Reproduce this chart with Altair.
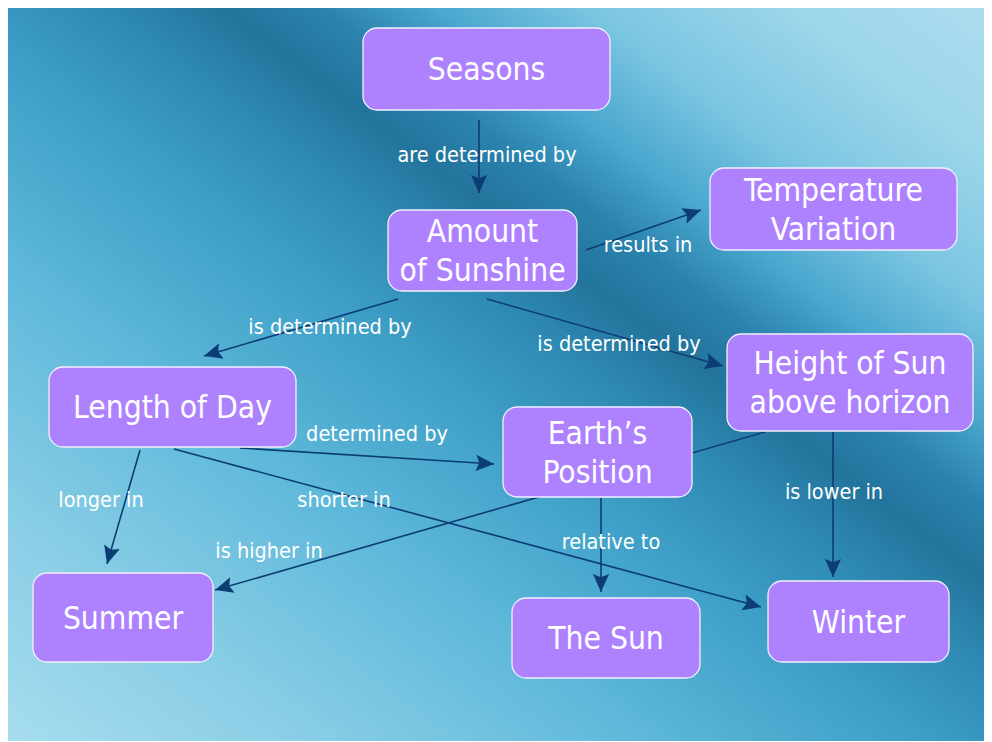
import math
import altair as alt
import pandas as pd

# ---------------- data ----------------
node_text = ["Seasons", "Amount\nof Sunshine", "Temperature\nVariation",
             "Height of Sun\nabove horizon", "Length of Day", "Earth\u2019s\nPosition",
             "Summer", "The Sun", "Winter"]
node_left = [363, 388, 710, 727, 49, 503, 33, 512, 768]
node_right = [610, 577, 957, 973, 296, 692, 213, 700, 949]
node_top = [28, 210, 168, 334, 367, 407, 573, 598, 581]
node_bottom = [110, 291, 250, 431, 447, 497, 662, 678, 662]

edge_from_x = [479, 586, 398, 487, 240, 140, 174, 765, 601, 833]
edge_from_y = [120, 250, 299, 299, 448, 450, 449, 432, 498, 432]
edge_to_x = [479, 701, 204, 723, 494, 107, 761, 215, 601, 833]
edge_to_y = [193, 210, 356, 366, 464, 564, 607, 590, 592, 577]

label_text = ["are determined by", "results in", "is determined by", "is determined by",
              "determined by", "longer in", "shorter in", "is higher in",
              "relative to", "is lower in"]
label_x = [487, 648, 330, 619, 377, 101, 344, 269, 611, 834]
label_y = [155, 245, 327, 344, 434, 500, 500, 551, 542, 492]

# ---------------- layout ----------------
W, H = 976, 733
X0, Y0 = 8, 8
FONT = "DejaVu Sans Condensed, DejaVu Sans"
NAVY = "#0c3d73"
BOX = "#ae82ff"
LH = 39

nodes = pd.DataFrame({
    "text": node_text, "x1": node_left, "x2": node_right,
    "y1": node_top, "y2": node_bottom,
})
nodes["cx"] = (nodes.x1 + nodes.x2) / 2
nodes["ty"] = [(t + b) / 2 - (s.count("\n")) * LH / 2
               for t, b, s in zip(node_top, node_bottom, node_text)]

edges = pd.DataFrame({"x1": edge_from_x, "y1": edge_from_y,
                      "x2": edge_to_x, "y2": edge_to_y})
edges["ang"] = [
    (math.degrees(math.atan2(dx, -dy)) + 360) % 360
    for dx, dy in zip(edges.x2 - edges.x1, edges.y2 - edges.y1)
]

labels = pd.DataFrame({"text": label_text, "x": label_x, "y": label_y})

xs = alt.Scale(domain=[X0, X0 + W], nice=False, zero=False)
ys = alt.Scale(domain=[Y0, Y0 + H], nice=False, zero=False, reverse=True)

bg_grad = {
    "gradient": "linear", "x1": 0, "y1": 1, "x2": 1, "y2": 0,
    "stops": [
        {"offset": 0.0, "color": "#a6dcef"},
        {"offset": 0.15, "color": "#8acee6"},
        {"offset": 0.33, "color": "#5db8da"},
        {"offset": 0.47, "color": "#3d9ec6"},
        {"offset": 0.55, "color": "#2e8ab3"},
        {"offset": 0.61, "color": "#23749c"},
        {"offset": 0.66, "color": "#2a83ad"},
        {"offset": 0.72, "color": "#4ba8cf"},
        {"offset": 0.8, "color": "#7cc6e2"},
        {"offset": 0.9, "color": "#9cd6ea"},
        {"offset": 1.0, "color": "#acdcee"},
    ],
}

background = alt.Chart(pd.DataFrame({"a": [0]})).mark_rect(fill=bg_grad).encode(
    x=alt.value(0), x2=alt.value(W), y=alt.value(0), y2=alt.value(H)
)

lines = alt.Chart(edges).mark_rule(color=NAVY, strokeWidth=1.6).encode(
    x=alt.X("x1:Q", scale=xs, axis=None),
    y=alt.Y("y1:Q", scale=ys, axis=None),
    x2="x2:Q", y2="y2:Q",
)

arrow_path = "M0,0 L-0.45,1 L0,0.82 L0.45,1 Z"
arrows = alt.Chart(edges).mark_point(
    shape=arrow_path, filled=True, size=1300, color=NAVY, opacity=1, strokeWidth=0
).encode(
    x=alt.X("x2:Q", scale=xs, axis=None),
    y=alt.Y("y2:Q", scale=ys, axis=None),
    angle=alt.Angle("ang:Q", scale=None),
)

boxes = alt.Chart(nodes).mark_rect(
    fill=BOX, stroke="#f4efff", strokeWidth=1.3, cornerRadius=14
).encode(
    x=alt.X("x1:Q", scale=xs, axis=None), x2="x2:Q",
    y=alt.Y("y1:Q", scale=ys, axis=None), y2="y2:Q",
)

node_labels = alt.Chart(nodes).mark_text(
    font=FONT, fontSize=31.5, color="white", lineBreak="\n", lineHeight=LH,
    align="center", baseline="middle", dy=2
).encode(
    x=alt.X("cx:Q", scale=xs, axis=None),
    y=alt.Y("ty:Q", scale=ys, axis=None),
    text="text:N",
)

edge_labels = alt.Chart(labels).mark_text(
    font=FONT, fontSize=21.5, color="white", align="center", baseline="middle", dy=1
).encode(
    x=alt.X("x:Q", scale=xs, axis=None),
    y=alt.Y("y:Q", scale=ys, axis=None),
    text="text:N",
)

chart = alt.layer(background, lines, arrows, edge_labels, boxes, node_labels).properties(
    width=W, height=H, padding=0, autosize=alt.AutoSizeParams(type="none")
).configure_view(stroke=None)

chart.save("out.html", embed_options={"renderer": "svg", "actions": False})
